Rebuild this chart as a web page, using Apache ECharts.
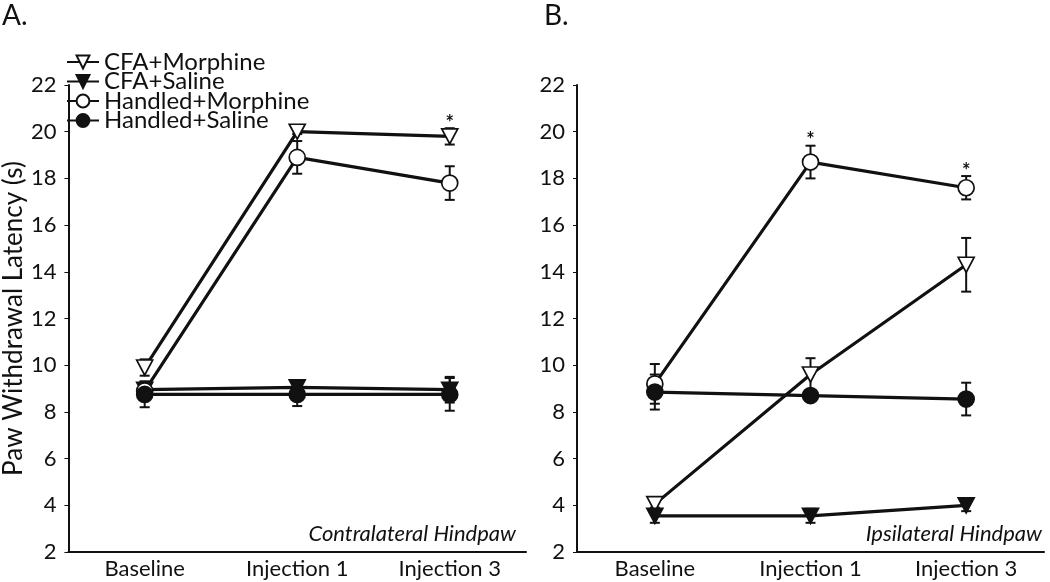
<!DOCTYPE html>
<html>
<head>
<meta charset="utf-8">
<script src="https://cdn.jsdelivr.net/npm/echarts@6/dist/echarts.min.js"></script>
<style>
html,body{margin:0;padding:0;background:#fff;}
#chart{width:1050px;height:582px;}
</style>
</head>
<body>
<div id="chart"></div>
<script>
// ---------- data ----------
const categories = ['Baseline', 'Injection 1', 'Injection 3'];
const seriesNames = ['CFA+Morphine', 'CFA+Saline', 'Handled+Morphine', 'Handled+Saline'];
const yTicks = [2, 4, 6, 8, 10, 12, 14, 16, 18, 20, 22];

// Panel A: Contralateral Hindpaw
const cfaMorphineA      = [9.9, 20.0, 19.8];
const cfaMorphineAErr   = [0.35, 0.1, 0.35];
const cfaSalineA        = [8.95, 9.05, 8.95];
const cfaSalineAErr     = [0.3, 0.25, 0.55];
const handledMorphineA  = [8.9, 18.9, 17.8];
const handledMorphineAErr = [0.4, 0.7, 0.72];
const handledSalineA    = [8.75, 8.75, 8.75];
const handledSalineAErr = [0.55, 0.5, 0.7];
const sigCfaMorphineA   = [0, 0, 1];

// Panel B: Ipsilateral Hindpaw
const cfaMorphineB      = [4.05, 9.6, 14.3];
const cfaMorphineBErr   = [0.15, 0.7, 1.15];
const cfaSalineB        = [3.55, 3.55, 4.0];
const cfaSalineBErr     = [0.3, 0.3, 0.25];
const handledMorphineB  = [9.2, 18.7, 17.6];
const handledMorphineBErr = [0.85, 0.7, 0.5];
const handledSalineB    = [8.85, 8.7, 8.55];
const handledSalineBErr = [0.75, 0.2, 0.7];
const sigHandledMorphineB = [0, 1, 1];

// ---------- styles ----------
const FONT = 'Lato';
const triDown = 'path://M0,0 L12,0 L6,11 Z';
const styleOf = {
  'CFA+Morphine':     {symbol: triDown, size: [16, 15], fill: '#fff'},
  'CFA+Saline':       {symbol: triDown, size: [16, 15], fill: '#111'},
  'Handled+Morphine': {symbol: 'circle', size: 16, fill: '#fff'},
  'Handled+Saline':   {symbol: 'circle', size: 16, fill: '#111'}
};

function lineSeries(name, data, idx) {
  const s = styleOf[name];
  return {
    type: 'line', name: name, data: data,
    xAxisIndex: idx, yAxisIndex: idx,
    symbol: s.symbol, symbolSize: s.size, showSymbol: true,
    lineStyle: {color: '#111', width: 3.2},
    itemStyle: {color: s.fill, borderColor: '#111', borderWidth: 1.7},
    z: 3, animation: false
  };
}

function errData(vals, errs, sig) {
  return vals.map((v, i) => [i, v, errs[i], sig ? sig[i] : 0]);
}

function renderErr(params, api) {
  const x = api.value(0), y = api.value(1), e = api.value(2), s = api.value(3);
  const hi = api.coord([x, y + e]);
  const lo = api.coord([x, y - e]);
  const cw = 5;
  const st = {stroke: '#111', lineWidth: 2};
  const children = [
    {type: 'line', shape: {x1: hi[0], y1: hi[1], x2: lo[0], y2: lo[1]}, style: st},
    {type: 'line', shape: {x1: hi[0] - cw, y1: hi[1], x2: hi[0] + cw, y2: hi[1]}, style: st},
    {type: 'line', shape: {x1: lo[0] - cw, y1: lo[1], x2: lo[0] + cw, y2: lo[1]}, style: st}
  ];
  if (s) {
    children.push({type: 'text', x: hi[0], y: hi[1] + 5,
      style: {text: '*', fill: '#111', font: 'bold 20px ' + FONT, align: 'center', verticalAlign: 'bottom'}});
  }
  return {type: 'group', children: children};
}

function errSeries(name, data, idx) {
  return {
    type: 'custom', name: name + ' SEM', data: data,
    xAxisIndex: idx, yAxisIndex: idx,
    renderItem: renderErr, encode: {x: 0, y: 1},
    z: 2, silent: true, animation: false
  };
}

function xAxisOf(idx) {
  return {
    type: 'category', gridIndex: idx, data: categories, boundaryGap: true,
    axisLine: {lineStyle: {color: '#111', width: 2}},
    axisTick: {alignWithLabel: true, length: 4, lineStyle: {color: '#111', width: 1}},
    axisLabel: {fontFamily: FONT, fontSize: 22, color: '#111', margin: 6}
  };
}
function yAxisOf(idx, withName) {
  const ax = {
    type: 'value', gridIndex: idx, min: yTicks[0], max: yTicks[yTicks.length - 1], interval: 2,
    axisLine: {show: true, lineStyle: {color: '#111', width: 2}},
    axisTick: {show: true, length: 4, lineStyle: {color: '#111', width: 1}},
    splitLine: {show: false},
    axisLabel: {fontFamily: FONT, fontSize: 22, color: '#111', margin: 12}
  };
  if (withName) {
    ax.name = 'Paw Withdrawal Latency (s)';
    ax.nameLocation = 'middle';
    ax.nameGap = 40;
    ax.nameTextStyle = {fontFamily: FONT, fontSize: 26, color: '#111'};
  }
  return ax;
}

const series = [
  errSeries('CFA+Morphine', errData(cfaMorphineA, cfaMorphineAErr, sigCfaMorphineA), 0),
  errSeries('CFA+Saline', errData(cfaSalineA, cfaSalineAErr), 0),
  errSeries('Handled+Morphine', errData(handledMorphineA, handledMorphineAErr), 0),
  errSeries('Handled+Saline', errData(handledSalineA, handledSalineAErr), 0),
  lineSeries('CFA+Morphine', cfaMorphineA, 0),
  lineSeries('CFA+Saline', cfaSalineA, 0),
  lineSeries('Handled+Morphine', handledMorphineA, 0),
  lineSeries('Handled+Saline', handledSalineA, 0),
  errSeries('CFA+Morphine', errData(cfaMorphineB, cfaMorphineBErr), 1),
  errSeries('CFA+Saline', errData(cfaSalineB, cfaSalineBErr), 1),
  errSeries('Handled+Morphine', errData(handledMorphineB, handledMorphineBErr, sigHandledMorphineB), 1),
  errSeries('Handled+Saline', errData(handledSalineB, handledSalineBErr), 1),
  lineSeries('CFA+Morphine', cfaMorphineB, 1),
  lineSeries('CFA+Saline', cfaSalineB, 1),
  lineSeries('Handled+Morphine', handledMorphineB, 1),
  lineSeries('Handled+Saline', handledSalineB, 1)
];

const chart = echarts.init(document.getElementById('chart'), null, {renderer: 'canvas'});
chart.setOption({
  backgroundColor: '#fff',
  animation: false,
  textStyle: {fontFamily: FONT},
  title: [
    {text: 'A.', left: 2, top: 2, padding: 0, textStyle: {fontFamily: FONT, fontSize: 28, fontWeight: 'normal', color: '#111'}},
    {text: 'B.', left: 544, top: 2, padding: 0, textStyle: {fontFamily: FONT, fontSize: 28, fontWeight: 'normal', color: '#111'}}
  ],
  legend: {
    data: seriesNames, orient: 'vertical', left: 66, top: 50, padding: 0,
    itemWidth: 32, itemHeight: 16, itemGap: -4.5,
    textStyle: {fontFamily: FONT, fontSize: 24, color: '#111', lineHeight: 19.5}
  },
  grid: [
    {left: 62, top: 85, width: 464, bottom: 30},
    {left: 577, top: 85, width: 467, bottom: 30}
  ],
  xAxis: [xAxisOf(0), xAxisOf(1)],
  yAxis: [yAxisOf(0, true), yAxisOf(1, false)],
  graphic: [
    {type: 'text', right: 1050 - 516, top: 523,
      style: {text: 'Contralateral Hindpaw', font: 'italic 22px ' + FONT, fill: '#111'}},
    {type: 'text', right: 1050 - 1042, top: 523,
      style: {text: 'Ipsilateral Hindpaw', font: 'italic 22px ' + FONT, fill: '#111'}}
  ],
  series: series
});
</script>
</body>
</html>
